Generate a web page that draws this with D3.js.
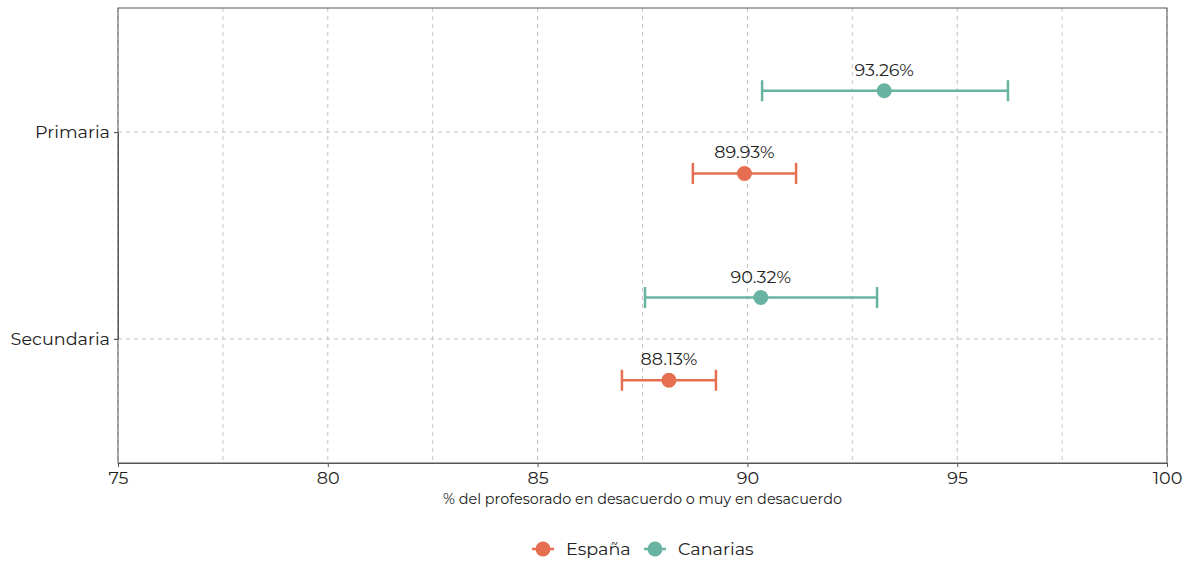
<!DOCTYPE html>
<html>
<head>
<meta charset="utf-8">
<script src="https://cdn.jsdelivr.net/npm/d3@7"></script>
<style>
  body { margin: 0; background: #fff; }
  text { font-family: "Montserrat", "Inter", "Noto Sans", sans-serif; fill: #222; }
</style>
</head>
<body>
<svg id="chart" width="1190" height="564"></svg>
<script>
// Teaching stage categories (top to bottom)
const niveles = ["Primaria", "Secundaria"];
// Regions shown in the legend
const regiones = ["España", "Canarias"];
const colores = ["#E76F51", "#69B3A2"];

// Point estimates and confidence bounds by region, in niveles order
const espanaValor = [89.93, 88.13];
const espanaMin   = [88.70, 87.01];
const espanaMax   = [91.16, 89.25];
const canariasValor = [93.26, 90.32];
const canariasMin   = [90.35, 87.56];
const canariasMax   = [96.21, 93.09];

const xTicks = [75, 80, 85, 90, 95, 100];
const xMinor = [77.5, 82.5, 87.5, 92.5, 97.5];

const filas = [];
niveles.forEach((n, i) => {
  filas.push({ nivel: n, region: "España", valor: espanaValor[i], lo: espanaMin[i], hi: espanaMax[i] });
  filas.push({ nivel: n, region: "Canarias", valor: canariasValor[i], lo: canariasMin[i], hi: canariasMax[i] });
});

const FONT = '"Montserrat", "Inter", "Noto Sans", sans-serif';
const svg = d3.select("#chart");
const m = { left: 118, right: 1167, top: 8, bottom: 463 };

const x = d3.scaleLinear().domain([75, 100]).range([m.left, m.right]);
// discrete axis: positions 1..n with 0.6 padding on each end, first category on top
const yPos = d3.scaleLinear().domain([0.4, niveles.length + 0.6]).range([m.bottom, m.top]);
const yCat = n => yPos(niveles.length - niveles.indexOf(n));
const dodge = { "Canarias": 0.2, "España": -0.2 };
const color = d3.scaleOrdinal().domain(regiones).range(colores);
const yOf = d => yPos(niveles.length - niveles.indexOf(d.nivel) + dodge[d.region]);

const grid = svg.append("g");
const dash = "4,4";
grid.selectAll("line.minor").data(xMinor).join("line")
  .attr("x1", d => x(d)).attr("x2", d => x(d))
  .attr("y1", m.top).attr("y2", m.bottom)
  .attr("stroke", "#c8c8c8").attr("stroke-width", 1).attr("stroke-dasharray", dash);
grid.selectAll("line.major").data(xTicks).join("line")
  .attr("x1", d => x(d)).attr("x2", d => x(d))
  .attr("y1", m.top).attr("y2", m.bottom)
  .attr("stroke", "#c0c0c0").attr("stroke-width", 1).attr("stroke-dasharray", dash);
grid.selectAll("line.h").data(niveles).join("line")
  .attr("x1", m.left).attr("x2", m.right)
  .attr("y1", d => yCat(d)).attr("y2", d => yCat(d))
  .attr("stroke", "#c0c0c0").attr("stroke-width", 1).attr("stroke-dasharray", dash);

// panel border
svg.append("rect")
  .attr("x", m.left).attr("y", m.top)
  .attr("width", m.right - m.left).attr("height", m.bottom - m.top)
  .attr("fill", "none").attr("stroke", "#555").attr("stroke-width", 1);

// x axis
const xAxis = svg.append("g").attr("transform", `translate(0,${m.bottom})`)
  .call(d3.axisBottom(x).tickValues(xTicks).tickSize(4).tickPadding(5));
xAxis.select(".domain").attr("stroke", "#555");
xAxis.selectAll(".tick line").attr("stroke", "#555");
xAxis.selectAll(".tick text").attr("font-size", 17.6).attr("fill", "#222")
  .style("font-family", FONT);

// y axis
const yAxis = svg.append("g").attr("transform", `translate(${m.left},0)`)
  .call(d3.axisLeft(d3.scalePoint().domain(niveles).range([yCat(niveles[0]), yCat(niveles[niveles.length - 1])]))
    .tickSize(4).tickPadding(4));
yAxis.select(".domain").attr("stroke", "#555");
yAxis.selectAll(".tick line").attr("stroke", "#555");
yAxis.selectAll(".tick text").attr("font-size", 17.6).attr("fill", "#222")
  .style("font-family", FONT);

svg.append("text")
  .attr("x", (m.left + m.right) / 2).attr("y", 504)
  .attr("text-anchor", "middle").attr("font-size", 14.4)
  .text("% del profesorado en desacuerdo o muy en desacuerdo");

// error bars
const capH = 10.5;
const eb = svg.append("g").selectAll("g").data(filas).join("g")
  .attr("stroke", d => color(d.region)).attr("stroke-width", 2.5);
eb.append("line").attr("x1", d => x(d.lo)).attr("x2", d => x(d.hi))
  .attr("y1", yOf).attr("y2", yOf);
eb.append("line").attr("x1", d => x(d.lo)).attr("x2", d => x(d.lo))
  .attr("y1", d => yOf(d) - capH).attr("y2", d => yOf(d) + capH);
eb.append("line").attr("x1", d => x(d.hi)).attr("x2", d => x(d.hi))
  .attr("y1", d => yOf(d) - capH).attr("y2", d => yOf(d) + capH);

svg.append("g").selectAll("circle").data(filas).join("circle")
  .attr("cx", d => x(d.valor)).attr("cy", yOf).attr("r", 7.5)
  .attr("fill", d => color(d.region));

svg.append("g").selectAll("text").data(filas).join("text")
  .attr("x", d => x(d.valor)).attr("y", d => yOf(d) - 15)
  .attr("text-anchor", "middle").attr("font-size", 17.6)
  .text(d => d.valor.toFixed(2) + "%");

// legend
const leg = svg.append("g").attr("transform", "translate(0,549)");
const legItems = [{ r: "España", x: 532 }, { r: "Canarias", x: 644 }];
legItems.forEach(it => {
  const g = leg.append("g").attr("transform", `translate(${it.x},0)`);
  g.append("line").attr("x1", 0).attr("x2", 22).attr("y1", 0).attr("y2", 0)
    .attr("stroke", color(it.r)).attr("stroke-width", 2.5);
  g.append("circle").attr("cx", 11).attr("cy", 0).attr("r", 7.5).attr("fill", color(it.r));
  g.append("text").attr("x", 34).attr("y", 0).attr("dy", "0.36em")
    .attr("font-size", 17.6).text(it.r);
});
</script>
</body>
</html>
